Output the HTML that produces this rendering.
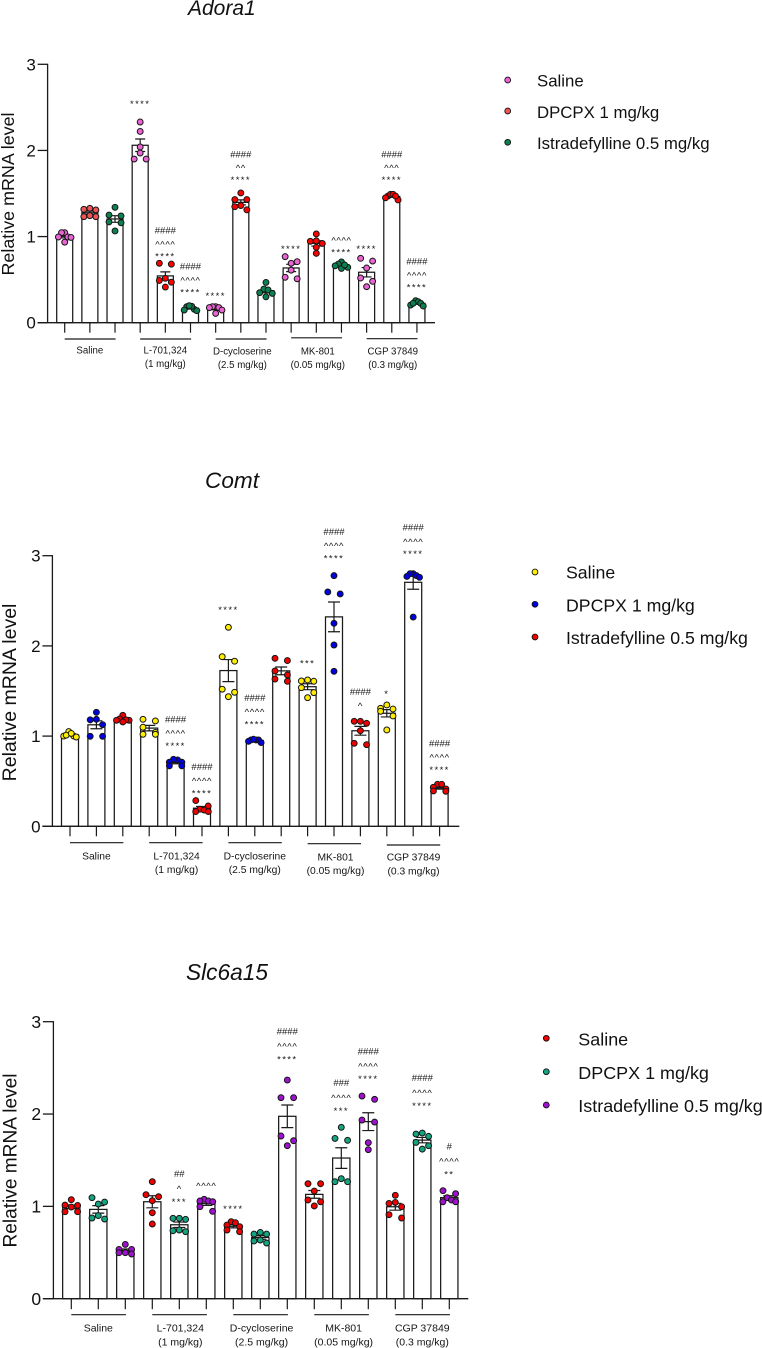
<!DOCTYPE html>
<html lang="en">
<head>
<meta charset="utf-8">
<title>Relative mRNA level charts</title>
<style>
html,body{margin:0;padding:0;background:#fff}
svg{display:block;font-family:"Liberation Sans",Arial,sans-serif}
</style>
</head>
<body>
<svg id="figure" xmlns="http://www.w3.org/2000/svg" width="762" height="1348" viewBox="0 0 762 1348">
  <rect width="762" height="1348" fill="#fff"/>

  <g id="panel-adora1"></g>
  <g id="panel-comt"></g>
  <g id="panel-slc6a15"></g>

  <text x="188" y="15" font-size="21" font-style="italic" fill="#111">Adora1</text>
  <text x="205" y="488" font-size="22.6" font-style="italic" fill="#111">Comt</text>
  <text x="186" y="980" font-size="22.7" font-style="italic" fill="#111">Slc6a15</text>

  <text transform="translate(14 194) rotate(-90)" text-anchor="middle" font-size="17.9" fill="#111">Relative mRNA level</text>
  <text transform="translate(16 692.5) rotate(-90)" text-anchor="middle" font-size="19.5" fill="#111">Relative mRNA level</text>
  <text transform="translate(16.5 1160.5) rotate(-90)" text-anchor="middle" font-size="19.1" fill="#111">Relative mRNA level</text>

  <g font-size="16.8" fill="#111">
    <g><circle cx="507.7" cy="80" r="2.9" fill="#e963d2" stroke="#111" stroke-width="0.9"/><text x="537" y="86.7">Saline</text></g>
    <g><circle cx="507.7" cy="111" r="2.9" fill="#ef5555" stroke="#111" stroke-width="0.9"/><text x="537" y="118">DPCPX 1 mg/kg</text></g>
    <g><circle cx="507.7" cy="142.3" r="2.9" fill="#0b8050" stroke="#111" stroke-width="0.9"/><text x="537" y="149">Istradefylline 0.5 mg/kg</text></g>
  </g>
  <g font-size="17.7" fill="#111">
    <g><circle cx="535" cy="572" r="2.9" fill="#ffee00" stroke="#111" stroke-width="0.9"/><text x="566" y="578.3">Saline</text></g>
    <g><circle cx="535" cy="604.3" r="2.9" fill="#0000e0" stroke="#111" stroke-width="0.9"/><text x="566" y="611.3">DPCPX 1 mg/kg</text></g>
    <g><circle cx="535" cy="637" r="2.9" fill="#f00000" stroke="#111" stroke-width="0.9"/><text x="566" y="644">Istradefylline 0.5 mg/kg</text></g>
  </g>
  <g font-size="17.95" fill="#111">
    <g><circle cx="546.3" cy="1038.3" r="2.9" fill="#f00000" stroke="#111" stroke-width="0.9"/><text x="578.3" y="1045.3">Saline</text></g>
    <g><circle cx="546.3" cy="1071.7" r="2.9" fill="#12a57f" stroke="#111" stroke-width="0.9"/><text x="578.3" y="1079">DPCPX 1 mg/kg</text></g>
    <g><circle cx="546.3" cy="1105" r="2.9" fill="#a010d0" stroke="#111" stroke-width="0.9"/><text x="578.3" y="1112">Istradefylline 0.5 mg/kg</text></g>
  </g>
</svg>

<script>
const treatmentLines = [['Saline'], ['L-701,324', '(1 mg/kg)'], ['D-cycloserine', '(2.5 mg/kg)'], ['MK-801', '(0.05 mg/kg)'], ['CGP 37849', '(0.3 mg/kg)']];
const yTickValues = [0, 1, 2, 3];

const adora1Saline = [
  [1.045, 1.045, 0.995, 0.99, 0.995, 0.935],
  [2.33, 2.22, 2.04, 1.97, 1.90, 1.90],
  [0.186, 0.175, 0.186, 0.108, 0.147, 0.175],
  [0.767, 0.708, 0.69, 0.61, 0.51, 0.527],
  [0.747, 0.716, 0.635, 0.519, 0.48, 0.418]
];
const adora1Dpcpx = [
  [1.328, 1.309, 1.316, 1.231, 1.243, 1.231],
  [0.68, 0.69, 0.515, 0.49, 0.47, 0.414],
  [1.506, 1.43, 1.43, 1.36, 1.347, 1.31],
  [1.03, 0.945, 0.95, 0.92, 0.875, 0.805],
  [1.47, 1.49, 1.49, 1.45, 1.425, 1.47]
];
const adora1Istradefylline = [
  [1.34, 1.25, 1.24, 1.17, 1.16, 1.065],
  [0.155, 0.19, 0.186, 0.197, 0.14, 0.147],
  [0.468, 0.39, 0.38, 0.348, 0.34, 0.30],
  [0.705, 0.68, 0.66, 0.643, 0.63, 0.67],
  [0.255, 0.244, 0.205, 0.225, 0.225, 0.194]
];
const adora1Significance = ['', '', '', '****', '####|^^^^|****', '####|^^^^|****', '****', '####|^^|****', '', '****', '', '^^^^|****', '****', '####|^^^|****', '####|^^^^|****'];
const adora1SignificanceLevels = [0, 0, 0, 2.567, 0.797, 0.379, 0.34, 1.684, 0, 0.883, 0, 0.844, 0.883, 1.684, 0.437];

const comtSaline = [
  [1.05, 1.0, 0.99, 1.0, 1.01, 1.03],
  [1.186, 1.168, 1.098, 1.04, 1.02, 1.02],
  [2.206, 1.88, 1.83, 1.52, 1.486, 1.437],
  [1.622, 1.611, 1.608, 1.537, 1.482, 1.426],
  [1.345, 1.30, 1.308, 1.275, 1.223, 1.068]
];
const comtDpcpx = [
  [1.264, 1.186, 1.18, 1.127, 0.998, 0.998],
  [0.735, 0.743, 0.71, 0.71, 0.67, 0.67],
  [0.957, 0.957, 0.957, 0.928, 0.942, 0.965],
  [2.779, 2.598, 2.576, 2.25, 2.01, 1.718],
  [2.80, 2.80, 2.78, 2.77, 2.76, 2.32]
];
const comtIstradefylline = [
  [1.23, 1.19, 1.175, 1.175, 1.18, 1.157],
  [0.285, 0.225, 0.19, 0.163, 0.18, 0.163],
  [1.862, 1.837, 1.722, 1.678, 1.633, 1.607],
  [1.164, 1.164, 1.142, 1.06, 0.92, 0.905],
  [0.466, 0.466, 0.432, 0.414, 0.392, 0.388]
];
const comtSignificance = ['', '', '', '', '####|^^^^|****', '####|^^^^|****', '****', '####|^^^^|****', '', '***', '####|^^^^|****', '####|^', '*', '####|^^^^|****', '####|^^^^|****'];
const comtSignificanceLevels = [0, 0, 0, 0, 0.92, 0.392, 2.428, 1.157, 0, 1.833, 2.997, 1.353, 1.493, 3.045, 0.654];

const slc6a15Saline = [
  [1.072, 1.014, 0.993, 1.01, 0.942, 0.942],
  [1.267, 1.126, 1.105, 1.061, 0.931, 0.809],
  [0.834, 0.78, 0.798, 0.823, 0.726, 0.744],
  [1.245, 1.245, 1.166, 1.05, 1.069, 1.004],
  [1.12, 1.032, 1.043, 0.996, 0.91, 0.874]
];
const slc6a15Dpcpx = [
  [1.094, 1.047, 1.025, 0.863, 0.90, 0.874],
  [0.87, 0.859, 0.87, 0.744, 0.726, 0.736],
  [0.718, 0.70, 0.70, 0.635, 0.625, 0.603],
  [1.856, 1.736, 1.715, 1.30, 1.267, 1.267],
  [1.794, 1.783, 1.758, 1.693, 1.657, 1.62]
];
const slc6a15Istradefylline = [
  [0.588, 0.534, 0.534, 0.498, 0.498, 0.484],
  [1.076, 1.058, 1.058, 1.05, 0.996, 0.946],
  [2.368, 2.177, 2.177, 1.762, 1.711, 1.657],
  [2.195, 2.159, 1.935, 1.913, 1.69, 1.614],
  [1.17, 1.137, 1.094, 1.069, 1.05, 1.05]
];
const slc6a15Significance = ['', '', '', '', '##|^|***', '^^^^', '****', '', '####|^^^^|****', '', '###|^^^^|***', '####|^^^^|****', '', '####|^^^^|****', '#|^^^^|**'];
const slc6a15SignificanceLevels = [0, 0, 0, 0, 1.076, 1.242, 0.996, 0, 2.62, 0, 2.06, 2.404, 0, 2.115, 1.375];

const SVG_NS = 'http://www.w3.org/2000/svg';

function attrs(el, map) {
  Object.keys(map).forEach(function (k) { el.setAttribute(k, map[k]); });
  return el;
}
function mean(a) { return a.reduce(function (s, v) { return s + v; }, 0) / a.length; }
function sem(a) {
  const m = mean(a);
  const v = a.reduce(function (s, x) { return s + (x - m) * (x - m); }, 0) / (a.length - 1);
  return Math.sqrt(v / a.length);
}

/* Swarm layout: points close in value are spread side by side around the bar centre. */
function swarm(values, yScale, dotStep, maxSpan, nearPx) {
  const order = values.map(function (v, i) { return i; }).sort(function (a, b) { return values[b] - values[a]; });
  const offsets = values.map(function () { return 0; });
  let start = 0;
  while (start < order.length) {
    let end = start + 1;
    while (end < order.length && yScale(values[order[end]]) - yScale(values[order[start]]) < nearPx) end++;
    const n = end - start;
    const step = n > 1 ? Math.min(n === 2 ? dotStep * 2 : dotStep, maxSpan / (n - 1)) : 0;
    const slots = [];
    for (let s = 0; s < n; s++) slots.push((s - (n - 1) / 2) * step);
    slots.sort(function (a, b) { return Math.abs(a) - Math.abs(b); });
    for (let s = 0; s < n; s++) offsets[order[start + s]] = slots[s];
    start = end;
  }
  return offsets;
}

function glyphCentreOffset(line, size) {
  const c = line.charAt(0);
  if (c === '*') return 0.58 * size;
  if (c === '^') return 0.5 * size;
  return 0.35 * size;
}

function drawPanel(cfg) {
  const root = document.getElementById(cfg.id);
  const yScale = function (v) { return cfg.y0 - v * (cfg.y0 - cfg.y3) / 3; };
  const xScale = function (i) { return cfg.x0 + i * cfg.step; };

  const seriesValues = [cfg.saline, cfg.dpcpx, cfg.istradefylline];
  const barValues = [];
  const barSeries = [];
  for (let g = 0; g < treatmentLines.length; g++) {
    for (let s = 0; s < seriesValues.length; s++) {
      barValues.push(seriesValues[s][g]);
      barSeries.push(s);
    }
  }

  barValues.forEach(function (vals, i) {
    const m = mean(vals);
    const rect = document.createElementNS(SVG_NS, 'rect');
    
    
    attrs(rect, { x: xScale(i) - cfg.barW / 2, y: yScale(m), width: cfg.barW, height: cfg.y0 - yScale(m), fill: '#fff', stroke: '#1a1a1a', 'stroke-width': 1.25 });
    root.appendChild(rect);
  });

  barValues.forEach(function (vals, i) {
    const m = mean(vals);
    const e = sem(vals);
    const x = xScale(i);
    const path = document.createElementNS(SVG_NS, 'path');
    
    
    const t = yScale(m + e);
    const b = yScale(m - e);
    attrs(path, { d: 'M' + (x - cfg.capW) + ' ' + t + 'H' + (x + cfg.capW) + 'M' + x + ' ' + t + 'V' + b + 'M' + (x - cfg.capW) + ' ' + b + 'H' + (x + cfg.capW), fill: 'none', stroke: '#1a1a1a', 'stroke-width': 1.2 });
    root.appendChild(path);
  });

  barValues.forEach(function (vals, i) {
    const offsets = swarm(vals, yScale, cfg.dotStep, cfg.maxSpan, cfg.nearPx);
    const fill = (cfg.barFill && cfg.barFill[i]) || cfg.colors[barSeries[i]];
    vals.forEach(function (v, k) {
      const dot = document.createElementNS(SVG_NS, 'circle');
      
      
      attrs(dot, { cx: xScale(i) + offsets[k], cy: yScale(v), r: 2.95, fill: fill, stroke: '#151515', 'stroke-width': 1 });
      root.appendChild(dot);
    });
  });

  const xAxis = document.createElementNS(SVG_NS, 'line');
  
  
  attrs(xAxis, { x1: cfg.axisX - cfg.tickLen, x2: cfg.axisEnd, y1: cfg.y0, y2: cfg.y0, stroke: '#1a1a1a', 'stroke-width': 1.3 });
  root.appendChild(xAxis);

  const yAxis = document.createElementNS(SVG_NS, 'line');
  
  
  attrs(yAxis, { x1: cfg.axisX, x2: cfg.axisX, y1: yScale(3) - 0.6, y2: cfg.y0, stroke: '#1a1a1a', 'stroke-width': 1.3 });
  root.appendChild(yAxis);

  yTickValues.forEach(function (v) {
    const tick = document.createElementNS(SVG_NS, 'line');
    
    
    attrs(tick, { x1: cfg.axisX - cfg.tickLen, x2: cfg.axisX, y1: yScale(v), y2: yScale(v), stroke: '#1a1a1a', 'stroke-width': 1.3 });
    root.appendChild(tick);
    const label = document.createElementNS(SVG_NS, 'text');
    
    
    attrs(label, { x: cfg.axisX - cfg.tickLen - 1.8, y: yScale(v) + cfg.tickFont * 0.35, 'text-anchor': 'end', 'font-size': cfg.tickFont, fill: '#111' });
    label.textContent = String(v);
    root.appendChild(label);
  });

  barValues.forEach(function (vals, i) {
    const tick = document.createElementNS(SVG_NS, 'line');
    
    
    attrs(tick, { x1: xScale(i), x2: xScale(i), y1: cfg.y0, y2: cfg.y0 + cfg.tickLen, stroke: '#1a1a1a', 'stroke-width': 1.2 });
    root.appendChild(tick);
  });

  treatmentLines.forEach(function (lines, g) {
    const first = xScale(g * 3);
    const last = xScale(g * 3 + 2);
    const bracket = document.createElementNS(SVG_NS, 'line');
    
    
    attrs(bracket, { x1: first, x2: last + 0.6, y1: cfg.groupLineY[g], y2: cfg.groupLineY[g], stroke: '#1a1a1a', 'stroke-width': 1.15 });
    root.appendChild(bracket);
    lines.forEach(function (line, n) {
      const text = document.createElementNS(SVG_NS, 'text');
      
      
      attrs(text, { x: (first + last) / 2 + cfg.groupLabelDx[g], y: cfg.groupLabelY[g] + n * cfg.groupLabelGap, 'text-anchor': 'middle', 'font-size': cfg.groupFont, fill: '#151515' });
      text.textContent = line;
      root.appendChild(text);
    });
  });

  cfg.significance.forEach(function (stack, i) {
    if (!stack) return;
    const lines = stack.split('|').reverse();
    let centre = yScale(cfg.significanceLevels[i]);
    lines.forEach(function (line, n) {
      const text = document.createElementNS(SVG_NS, 'text');
      
      
      attrs(text, { x: xScale(i), y: centre + glyphCentreOffset(line, 9.5), 'text-anchor': 'middle', 'font-size': 9.5, fill: '#151515' });
      if (line.charAt(0) === '*') text.setAttribute('letter-spacing', '1.4');
      if (line.charAt(0) === '^') text.setAttribute('letter-spacing', '0.6');
      text.textContent = line;
      root.appendChild(text);
      const next = lines[n + 1];
      centre -= cfg.stackGap + (next && next.charAt(0) === '#' ? 1.3 : 0);
    });
  });
}

drawPanel({
  id: 'panel-adora1', y0: 322.7, y3: 64.3, x0: 64.7, step: 25.16, barW: 16, capW: 5,
  axisX: 47.6, axisEnd: 435, tickLen: 10, tickFont: 17, groupFont: 9.7,
  groupLineY: [339, 339, 339, 337.8, 338.7], groupLabelY: [353.5, 353.5, 354.3, 354.3, 354.3],
  groupLabelDx: [0, 0, 1.5, 1.5, 1], groupLabelGap: 13.6, stackGap: 11.2,
  dotStep: 6, maxSpan: 12.6, nearPx: 6,
  colors: ['#e963d2', '#ff0000', '#0b8050'], barFill: { 1: '#ef5555' },
  saline: adora1Saline, dpcpx: adora1Dpcpx, istradefylline: adora1Istradefylline,
  significance: adora1Significance, significanceLevels: adora1SignificanceLevels
});

drawPanel({
  id: 'panel-comt', y0: 826.3, y3: 555.7, x0: 70, step: 26.4, barW: 17, capW: 6,
  axisX: 52.4, axisEnd: 459.3, tickLen: 10, tickFont: 17, groupFont: 10.3,
  groupLineY: [842.7, 842.7, 842.7, 843.7, 845], groupLabelY: [859.4, 859.4, 859.4, 860.4, 860.6],
  groupLabelDx: [0, 1, 0, 1.5, 0.3], groupLabelGap: 13.8, stackGap: 11.5,
  dotStep: 6.2, maxSpan: 12.6, nearPx: 6,
  colors: ['#ffee00', '#0000e0', '#f00000'],
  saline: comtSaline, dpcpx: comtDpcpx, istradefylline: comtIstradefylline,
  significance: comtSignificance, significanceLevels: comtSignificanceLevels
});

drawPanel({
  id: 'panel-slc6a15', y0: 1298.7, y3: 1021.7, x0: 71.3, step: 27, barW: 17.3, capW: 6,
  axisX: 53.4, axisEnd: 468.3, tickLen: 10.5, tickFont: 17.5, groupFont: 10.5,
  groupLineY: [1314.7, 1314.7, 1314.7, 1314.7, 1314.7], groupLabelY: [1331.4, 1331.4, 1331.4, 1331.4, 1331.4],
  groupLabelDx: [0, 1, 1.3, 2.3, 0], groupLabelGap: 14, stackGap: 12.2,
  dotStep: 6.3, maxSpan: 12.8, nearPx: 6,
  colors: ['#f00000', '#12a57f', '#a010d0'],
  saline: slc6a15Saline, dpcpx: slc6a15Dpcpx, istradefylline: slc6a15Istradefylline,
  significance: slc6a15Significance, significanceLevels: slc6a15SignificanceLevels
});
</script>
</body>
</html>
